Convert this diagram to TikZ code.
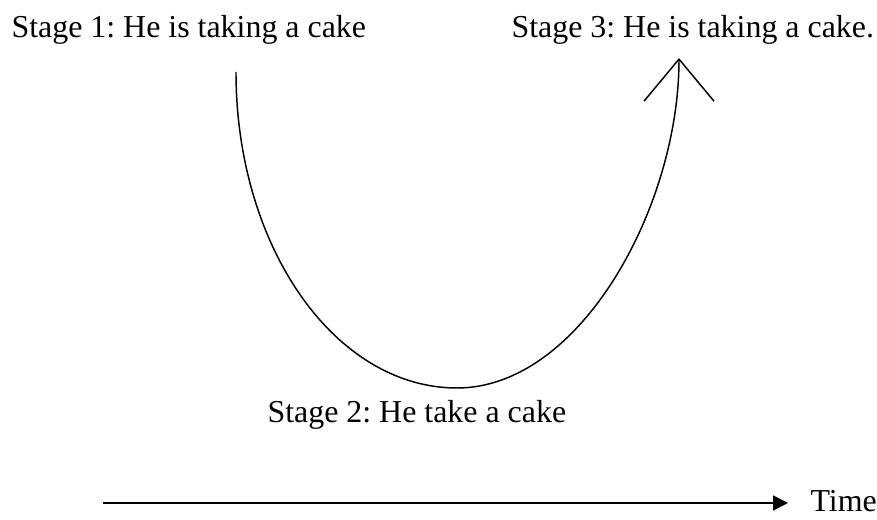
\documentclass[tikz,border=0pt]{standalone}
\usepackage{fontspec}
\setmainfont{Liberation Serif}
\usetikzlibrary{arrows.meta,positioning}
\tikzset{
  lbl/.style={anchor=base west,inner sep=0pt,font=\fontsize{12}{14}\selectfont},
  crv/.style={line width=0.55pt,-{Straight Barb[length=15.8pt,width=26.3pt,line width=0.55pt]}},
  ax/.style={line width=0.75pt,-{Triangle[length=5.6pt,width=5.6pt]}}
}
\frenchspacing
\begin{document}
\begin{tikzpicture}[x=0.376pt,y=-0.376pt]
\useasboundingbox (0,0) rectangle (877,520);
% stage labels
\node[lbl] (s1) at (11,38) {Stage 1: He is taking a cake};
\node[lbl] (s3) at (511,38) {Stage 3: He is taking a cake.};
\node[lbl] (s2) at (267,423) {Stage 2: He take a cake};
\node[lbl] (time) at (810,512) {Time};
% the U-shaped path (two quarter ellipses)
\coordinate (start) at (236,72);
\coordinate (low) at (457,388);
\coordinate (tip) at (679,58);
\draw[crv] (start) .. controls (236,247) and (335,388) .. (low)
  .. controls (580,388) and (679,207) .. (tip);
% time axis
\coordinate (t0) at (103,503);
\coordinate (t1) at (788,503);
\draw[ax] (t0) -- (t1);
\end{tikzpicture}
\end{document}
